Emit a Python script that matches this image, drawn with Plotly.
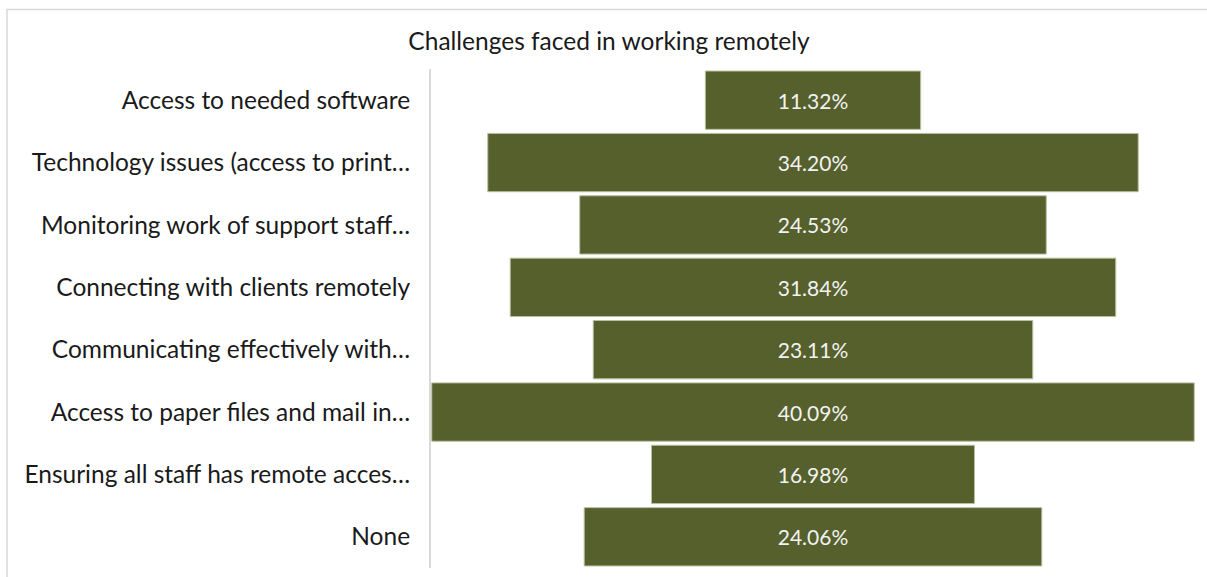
import plotly.graph_objects as go

categories = [
    "Access to needed software",
    "Technology issues (access to print…",
    "Monitoring work of support staff…",
    "Connecting with clients remotely",
    "Communicating effectively with…",
    "Access to paper files and mail in…",
    "Ensuring all staff has remote acces…",
    "None",
]
values = [11.32, 34.20, 24.53, 31.84, 23.11, 40.09, 16.98, 24.06]
title_text = "Challenges faced in working remotely"

W, H = 1207, 577
L, R, T, B = 431, 12, 69, 9
pw, ph = W - L - R, H - T - B

def px_x(p):
    return (p - L) / pw

def px_y(p):
    return (H - B - p) / ph

fig = go.Figure(go.Funnel(
    y=categories,
    x=values,
    texttemplate="%{x:.2f}%",
    textposition="inside",
    insidetextanchor="middle",
    textfont=dict(family="Lato", size=21, color="#f2f2f2"),
    marker=dict(color="#55602c", line=dict(color="#b9c0a2", width=1)),
    connector=dict(visible=False),
    hoverinfo="skip",
))

half = max(values) / 2
fig.update_layout(
    width=W, height=H,
    margin=dict(l=L, r=R, t=T, b=B),
    paper_bgcolor="white",
    plot_bgcolor="white",
    showlegend=False,
    funnelgap=0.065,
    title=dict(text=title_text, x=609 / W, xref="container", xanchor="center",
               y=1 - 41 / H, yref="container", yanchor="middle",
               font=dict(family="Lato", size=24.5, color="#1a1a1a")),
    font=dict(family="Lato"),
    xaxis=dict(range=[-half * 1.002, half * 1.002], visible=False, fixedrange=True),
    yaxis=dict(autorange="reversed", showline=True, linecolor="#d9d9d9", linewidth=2,
               showgrid=False, zeroline=False, ticks="", ticklabelstandoff=14,
               tickfont=dict(family="Lato", size=24.5, color="#1a1a1a")),
    shapes=[dict(type="rect", xref="paper", yref="paper",
                 x0=px_x(7), x1=px_x(1215), y0=px_y(585), y1=px_y(9.5),
                 line=dict(color="#d9d9d9", width=1.5), fillcolor="rgba(0,0,0,0)",
                 layer="below")],
)

fig.write_html("out.html", config={"displayModeBar": False},
               post_script="document.body.style.margin='0';")
